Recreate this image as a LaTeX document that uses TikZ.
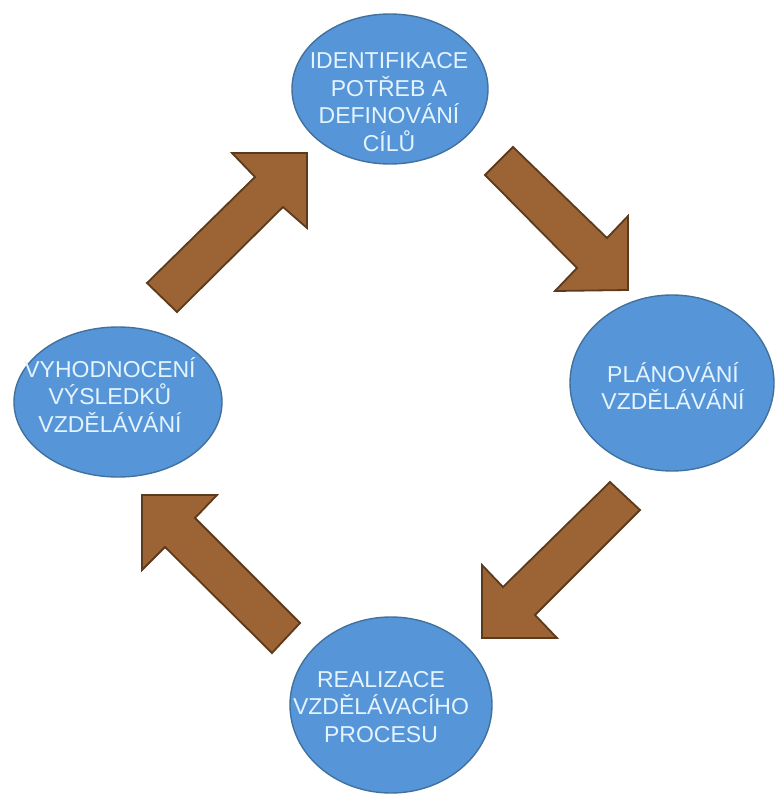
\documentclass[tikz,border=0pt]{standalone}
\usepackage{fontspec}
\setmainfont{Liberation Sans}
\usetikzlibrary{shapes.geometric}
\definecolor{ellfill}{RGB}{86,150,216}
\definecolor{elldraw}{RGB}{65,113,156}
\definecolor{txtcol}{RGB}{228,244,255}
\definecolor{arrfill}{RGB}{156,100,52}
\definecolor{arrdraw}{RGB}{92,58,28}
\tikzset{
  stage/.style={ellipse, fill=ellfill, draw=elldraw, line width=1.4pt, inner sep=0pt},
  stagetext/.style={text=txtcol, align=center, font=\fontsize{23}{27.5}\selectfont, inner sep=0pt},
  blockarrow/.style={fill=arrfill, draw=arrdraw, line width=1.8pt, line join=miter}
}
\begin{document}
\begin{tikzpicture}[x=1pt,y=-1pt]
\useasboundingbox (0,0) rectangle (777,794);
\fill[white] (0,0) rectangle (777,794);
% ellipses
\node[stage, minimum width=196pt, minimum height=150pt] (top) at (390,89) {};
\node[stage, minimum width=204pt, minimum height=176pt] (right) at (672,383) {};
\node[stage, minimum width=202pt, minimum height=176pt] (bottom) at (391,705) {};
\node[stage, minimum width=208pt, minimum height=150pt] (left) at (118,402) {};
% texts
\node[stagetext] (ttop) at (389,102) {IDENTIFIKACE\\POTŘEB A\\DEFINOVÁNÍ\\CÍLŮ};
\node[stagetext] (tright) at (673,386) {PLÁNOVÁNÍ\\VZDĚLÁVÁNÍ};
\node[stagetext] (tbottom) at (381,707) {REALIZACE\\VZDĚLÁVACÍHO\\PROCESU};
\node[stagetext] (tleft) at (110,395) {VYHODNOCENÍ\\VÝSLEDKŮ\\VZDĚLÁVÁNÍ};
% block arrows
\draw[blockarrow] (147,283) -- (255,177) -- (232,153) -- (307,153) -- (307,228) -- (283,207) -- (177,312) -- cycle;
\draw[blockarrow] (513,147) -- (607,238) -- (628,216) -- (628,290) -- (555,291) -- (577,268) -- (485,175) -- cycle;
\draw[blockarrow] (610,482) -- (503,587) -- (482,565) -- (482,638) -- (557,638) -- (535,615) -- (640,510) -- cycle;
\draw[blockarrow] (142,495) -- (217,495) -- (195,518) -- (300,623) -- (272,653) -- (165,547) -- (142,570) -- cycle;
\end{tikzpicture}
\end{document}
